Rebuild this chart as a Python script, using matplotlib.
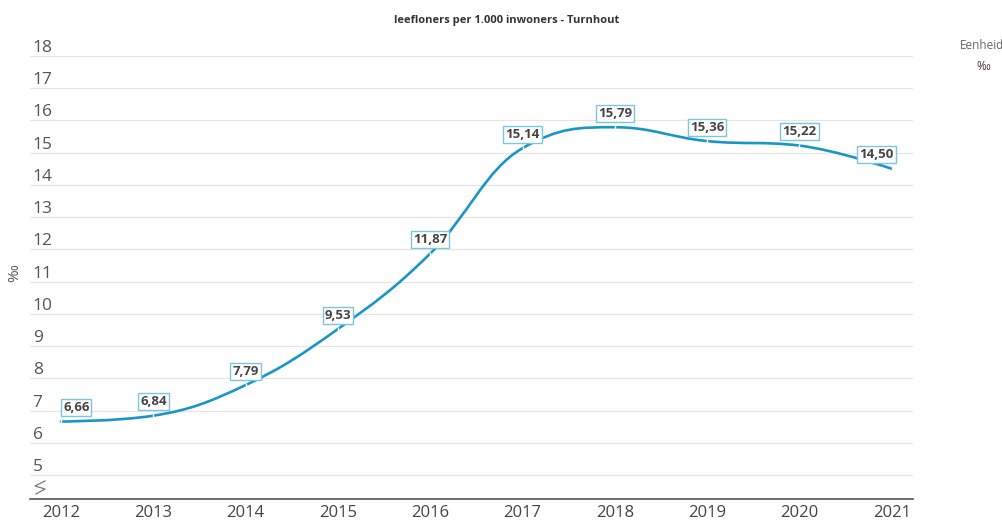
import matplotlib.pyplot as plt
import matplotlib.transforms as mtransforms
from matplotlib.path import Path
from matplotlib.patches import PathPatch
from matplotlib.lines import Line2D

plt.rcParams['font.family'] = ['Open Sans', 'DejaVu Sans']

years = [2012, 2013, 2014, 2015, 2016, 2017, 2018, 2019, 2020, 2021]
values = [6.66, 6.84, 7.79, 9.53, 11.87, 15.14, 15.79, 15.36, 15.22, 14.50]
yticks = list(range(5, 19))

title = 'leefloners per 1.000 inwoners - Turnhout'
line_color = '#1a96c6'

fig = plt.figure(figsize=(10.03, 5.22), dpi=100)
ax = fig.add_axes([30 / 1003, 23 / 522, 883 / 1003, 443 / 522])
ax.set_xlim(2011.664, 2021.23)
ax.set_ylim(4.255, 18.0)

# spline like the original chart (smoothing 1.5, flat at local extremes)
n = len(years)
lc = [(years[i], values[i]) for i in range(n)]
rc = [(years[i], values[i]) for i in range(n)]
for i in range(1, n - 1):
    x, y = years[i], values[i]
    lx, ly = years[i - 1], values[i - 1]
    nx, ny = years[i + 1], values[i + 1]
    lcx, lcy = (1.5 * x + lx) / 2.5, (1.5 * y + ly) / 2.5
    rcx, rcy = (1.5 * x + nx) / 2.5, (1.5 * y + ny) / 2.5
    corr = (rcy - lcy) * (rcx - x) / (rcx - lcx) + y - rcy
    lcy += corr
    rcy += corr
    if lcy > ly and lcy > y:
        lcy = max(ly, y)
        rcy = 2 * y - lcy
    elif lcy < ly and lcy < y:
        lcy = min(ly, y)
        rcy = 2 * y - lcy
    if rcy > ny and rcy > y:
        rcy = max(ny, y)
        lcy = 2 * y - rcy
    elif rcy < ny and rcy < y:
        rcy = min(ny, y)
        lcy = 2 * y - rcy
    lc[i] = (lcx, lcy)
    rc[i] = (rcx, rcy)

verts = [(years[0], values[0])]
codes = [Path.MOVETO]
for i in range(1, n):
    verts += [rc[i - 1], lc[i], (years[i], values[i])]
    codes += [Path.CURVE4] * 3
ax.add_patch(PathPatch(Path(verts, codes), fill=False, edgecolor=line_color,
                       lw=1.9, capstyle='round', zorder=3))
ax.plot(years, values, ls='none', marker='|', ms=3, mew=1, color='white', zorder=4)

# data labels
for i, (x, v) in enumerate(zip(years, values)):
    dx = 0
    if i == 0:
        dx = 11
    elif i == n - 1:
        dx = -11
    ax.annotate(f'{v:.2f}'.replace('.', ','), (x, v), xytext=(dx, 10),
                textcoords='offset points', ha='center', va='center',
                fontsize=9.5, fontweight='bold', color='#444444', zorder=5,
                bbox=dict(boxstyle='square,pad=0.15', fc='white', ec='#7cc6df', lw=1))

# grid and y labels above gridlines
for t in yticks:
    ax.axhline(t, color='#e6e6e6', lw=0.9, zorder=1)
trans = mtransforms.blended_transform_factory(ax.transAxes, ax.transData)
for t in yticks:
    ax.text(0.003, t, str(t), transform=trans, ha='left', va='bottom',
            fontsize=12.5, color='#555555')

ax.set_yticks([])
ax.set_xticks(years)
ax.set_xticklabels([str(y) for y in years], fontsize=12, color='#444444')
ax.tick_params(axis='x', length=0, pad=4)
for s in ['top', 'right', 'left']:
    ax.spines[s].set_visible(False)
ax.spines['bottom'].set_color('#555555')
ax.spines['bottom'].set_linewidth(1.2)

# axis break sign
zx = [45, 35, 45, 36]
zy = [481, 486, 489, 494]
fig.add_artist(Line2D([x / 1003 for x in zx], [1 - y / 522 for y in zy],
                      color='#777777', lw=0.9))

fig.text(15 / 1003, 1 - 273 / 522, '‰', rotation=90, ha='center', va='center',
         fontsize=11, color='#555555')
fig.text(507 / 1003, 1 - 20 / 522, title, ha='center', va='center',
         fontsize=8, fontweight='bold', color='#333333')
fig.text(982 / 1003, 1 - 45 / 522, 'Eenheid', ha='center', va='center',
         fontsize=8.5, color='#666666')
fig.text(983 / 1003, 1 - 66 / 522, '‰', ha='center', va='center',
         fontsize=8.5, color='#4a2b3f')

fig.savefig('out.png', dpi=100)
